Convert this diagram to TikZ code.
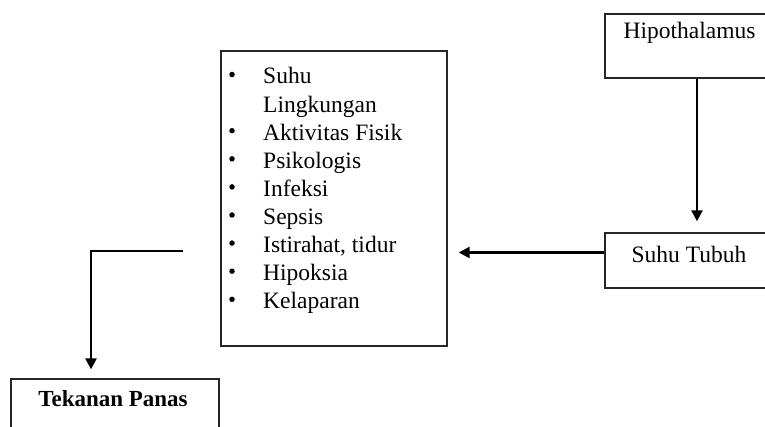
\documentclass[tikz,border=0pt]{standalone}
\usepackage{fontspec}
\setmainfont{Liberation Serif}
\usetikzlibrary{arrows.meta}
\begin{document}
\begin{tikzpicture}[x=1pt,y=-1pt,
  box/.style={draw=black!85, line width=1.3pt, inner sep=0pt},
  txt/.style={inner sep=0pt, font=\fontsize{23.5}{28}\selectfont},
  bulletdot/.style={circle, fill=black, inner sep=0pt, minimum size=5.5pt},
  conn/.style={draw=black, line width=2.4pt, -{Triangle[length=11pt,width=11pt]}}]
\useasboundingbox (0,0) rectangle (765,427);
% boxes
\node[box, minimum width=226pt, minimum height=295pt] (list) at (334,198.5) {};
\node[box, minimum width=170pt, minimum height=64pt] (hyp) at (690,46) {};
\node[box, minimum width=170pt, minimum height=55pt] (suhu) at (690,260.5) {};
\node[box, minimum width=208pt, minimum height=80pt] (tek) at (115,419) {};
% box texts
\node[txt, anchor=base] (hyptxt) at (689.5,39) {Hipothalamus};
\node[txt, anchor=base] (suhutxt) at (689,262.5) {Suhu Tubuh};
\node[txt, anchor=base, font=\fontsize{23}{28}\selectfont\bfseries] (tektxt) at (113,406.5) {Tekanan Panas};
% list
\foreach \n/\y/\t in {1/84/Suhu, 2/112.1/Lingkungan, 3/140.2/Aktivitas Fisik, 4/168.3/Psikologis, 5/196.4/Infeksi, 6/224.5/Sepsis, 7/252.6/{Istirahat, tidur}, 8/280.7/Hipoksia, 9/308.8/Kelaparan}
  \node[txt, anchor=base west] (item\n) at (263,\y) {\t};
\foreach \n/\y in {1/84, 3/140.2, 4/168.3, 5/196.4, 6/224.5, 7/252.6, 8/280.7, 9/308.8}
  \node[bulletdot] (bul\n) at (232,\y-9.5) {};
% connectors
\coordinate (suhuout) at ([yshift=8pt]suhu.west);
\draw[conn, shorten >=11pt] ([xshift=7pt]hyp.south) -- ([xshift=7pt]suhu.north);
\draw[conn, shorten >=11pt] (suhuout) -- (list.east |- suhuout);
\coordinate (lstart) at (183,251);
\draw[conn, shorten >=9pt] (lstart) -| ([xshift=-24pt]tek.north);
\end{tikzpicture}
\end{document}
